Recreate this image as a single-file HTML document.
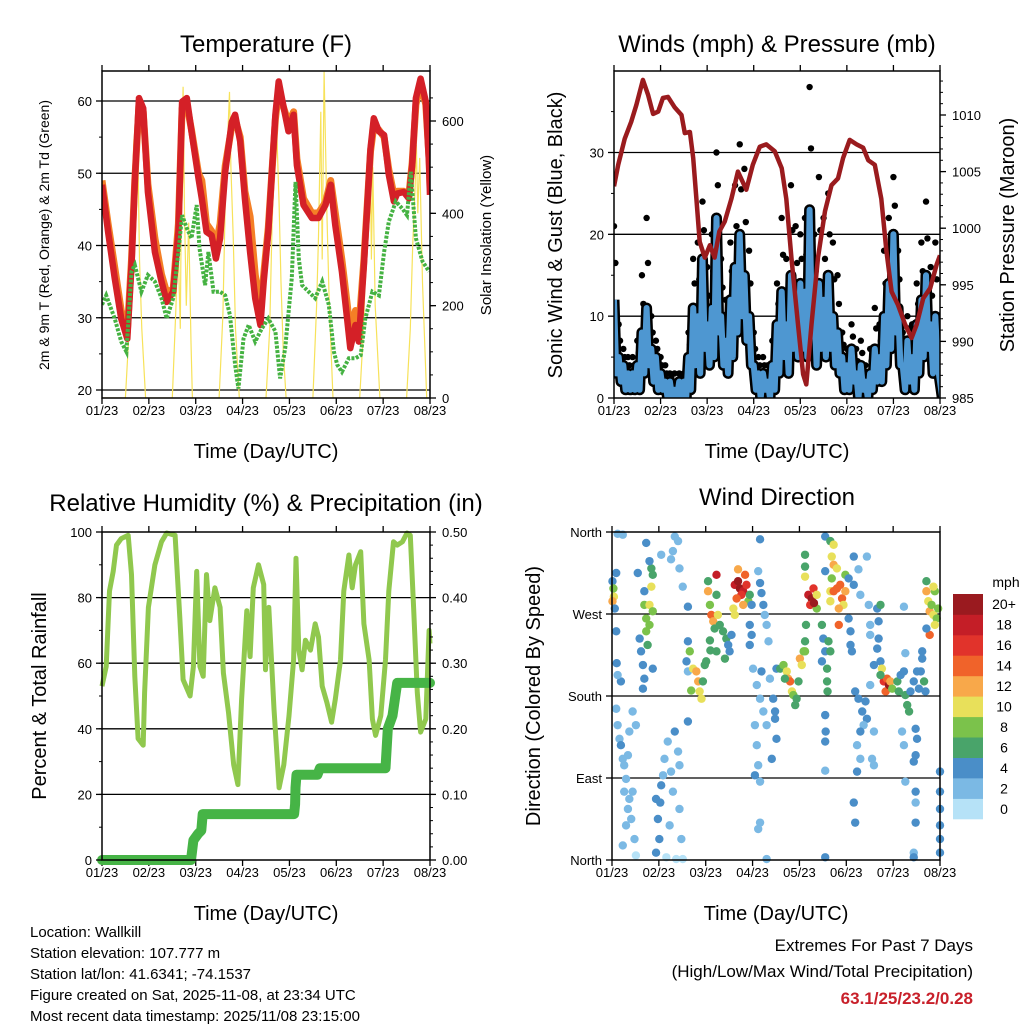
<!DOCTYPE html>
<html><head><meta charset="utf-8"><style>
html,body{margin:0;padding:0;background:#fff;}
svg{display:block;font-family:"Liberation Sans",Arial,sans-serif;}
</style></head><body>
<svg id="chart" width="1024" height="1024" viewBox="0 0 1024 1024" xmlns="http://www.w3.org/2000/svg"></svg>
<script>
// ---------- Temperature panel data ----------
const tempT = [0,0.13,0.27,0.41,0.54,0.63,0.7,0.79,0.88,0.98,1.13,1.27,1.38,1.52,1.63,1.71,1.81,1.91,2.06,2.13,2.23,2.34,2.43,2.52,2.63,2.77,2.84,2.95,3.05,3.16,3.27,3.38,3.45,3.55,3.7,3.77,3.88,3.98,4.09,4.16,4.3,4.48,4.62,4.77,4.88,4.98,5.12,5.23,5.3,5.41,5.48,5.59,5.73,5.8,5.91,6.02,6.12,6.23,6.3,6.44,6.55,6.62,6.7,6.8,6.91,6.98,7];
const temp2m = [48.4,41.9,35.5,29.9,27.1,37.3,48.8,60.4,59,47.4,39.1,35,32.2,33.6,41.9,59.9,60.4,55.8,49.3,46.5,41.9,41.4,38.2,41,50.2,57.1,58.1,54.4,46.5,39.1,32.7,29,35,41.9,58.1,62.7,59,55.8,58.1,51.1,45.6,43.8,43.8,45.6,48.4,42.8,36.4,29.9,25.8,29,26.7,37.3,53.4,57.6,55.8,55.3,49.8,46.1,47.2,47.4,46.5,51.1,60.4,63.1,59.9,51.1,47];
const temp9m = [49,43,37,31,28,38,49,59.5,58.5,48.5,41,36,33.5,34,43,59,59.5,56,50,49,43,42,40,43,51,56.5,57.5,55,47.5,44,36,31,36,42.5,57.5,61.5,59,57,58.5,52,46.5,44.5,44.5,46,49,44.5,38,32,28,31,28.5,38,53,56.5,56,55,50.5,47,47.5,47.5,47,51.5,59.5,62.5,59.5,52,48];
const dewT = [0,0.09,0.27,0.41,0.52,0.63,0.7,0.84,0.98,1.13,1.27,1.38,1.52,1.63,1.71,1.81,1.91,2.02,2.08,2.2,2.27,2.38,2.52,2.63,2.73,2.84,2.91,3.02,3.13,3.27,3.41,3.55,3.7,3.8,3.91,4.05,4.13,4.2,4.27,4.41,4.55,4.7,4.84,4.95,5.02,5.12,5.27,5.41,5.52,5.62,5.77,5.91,6.02,6.12,6.27,6.41,6.51,6.59,6.7,6.84,6.98];
const dewV = [31.8,33.1,29.9,26.7,25.3,36.4,37.3,33.6,35.9,35,32.7,29.9,32.7,39.1,44.2,42.4,41,45.6,39.6,34.5,39.1,33.6,33.6,33.1,30.4,23.5,20.2,27.1,29,26.7,28.5,29.9,28.1,21.6,25.8,35.5,48.8,38.2,34.5,33.6,32.7,35,31.8,25.3,23.5,22.5,24.4,24.4,24.8,29.9,33.6,33.1,39.1,43.3,46.1,45.1,44.2,50.2,41,37.8,36.4];
const solarT = [0,0.5,0.58,0.63,0.68,0.72,0.76,0.8,0.85,0.93,1.5,1.58,1.62,1.67,1.7,1.73,1.76,1.8,1.85,1.9,1.93,2.5,2.58,2.63,2.68,2.72,2.75,2.8,2.85,2.93,3.5,3.58,3.63,3.68,3.73,3.78,3.82,3.87,3.93,4.5,4.58,4.62,4.67,4.7,4.74,4.77,4.8,4.85,4.93,5.5,5.58,5.63,5.68,5.72,5.75,5.78,5.83,5.93,6.5,6.58,6.63,6.68,6.71,6.74,6.78,6.84,6.93,7];
const solarV = [0,0,150,400,560,480,577,300,150,0,0,200,350,150,520,674,400,200,380,120,0,0,180,420,560,663,500,350,150,0,0,150,380,500,577,420,250,100,0,0,200,350,620,300,707,550,400,200,0,0,150,300,500,584,300,500,200,0,0,150,330,450,548,400,520,250,0,0];
const tempTicks = [20,30,40,50,60];
const solarTicks = [0,200,400,600];
const dayLabels = ["01/23","02/23","03/23","04/23","05/23","06/23","07/23","08/23"];

// ---------- Winds / pressure data ----------
const presT = [0,0.09,0.23,0.37,0.48,0.62,0.73,0.84,0.95,1.05,1.16,1.3,1.45,1.52,1.63,1.7,1.77,1.84,1.95,2.06,2.16,2.26,2.38,2.52,2.66,2.84,2.98,3.13,3.27,3.45,3.6,3.7,3.81,3.95,4.06,4.13,4.24,4.38,4.53,4.67,4.81,4.92,5.06,5.21,5.35,5.46,5.6,5.74,5.85,5.96,6.1,6.25,6.39,6.5,6.64,6.79,6.93,7];
const presV = [1003.7,1005.6,1007.9,1009.4,1010.9,1013.1,1011.8,1010.1,1010.3,1011.5,1011.6,1010.7,1010,1008.4,1008.5,1006.2,1002.6,998.8,997.4,998.5,997.4,999.7,1000.6,1002.6,1005,1003.4,1005.6,1007.2,1007.4,1006.8,1005.3,1002.6,997.4,991.5,987.1,986.2,991.5,997.4,1001.5,1003.8,1004.4,1006.2,1007.8,1007.4,1007.1,1006,1005.6,1002.6,998,994.4,993.2,991.5,990.3,991.5,993.8,994.7,996.8,997.6];
const windHi = [12,5,4,3,3,4,8,11,6,5, 3,2,2,1,2,2,5,11,10,17, 9,11,22,10,7,12,16,20,15,10, 4,3,3,2,4,9,13,9,15,12, 14,13,23,11,14,12,15,10,8,5, 4,6,3,4,2,3,6,5,10,14, 20,11,4,7,5,9,12,15,9,10,2];
const windLo = [3,2,1,1,1,1,3,4,2,1, 1,0,0,0,0,0,1,4,3,6, 4,5,8,4,3,5,8,10,7,4, 1,0,1,0,1,3,5,3,6,5, 6,5,9,4,6,5,6,4,3,1, 1,2,0,1,0,1,2,2,4,6, 8,4,1,2,1,3,5,6,3,4,0];
const gust = [21,9,6,5,5,7,15,22,10,7, 5,4,3,3,3,3,8,17,19,24, 16,20,30,17,12,19,26,31,28,18, 8,5,5,4,7,14,22,17,26,21, 20,22,38,20,27,22,25,19,15,8, 6,9,6,7,4,6,11,9,18,22, 27,18,8,10,9,14,19,24,16,19,5];
const windTicks = [0,10,20,30];
const presTicks = [985,990,995,1000,1005,1010];

// ---------- RH / precip data ----------
const rhT = [0,0.09,0.16,0.24,0.31,0.41,0.56,0.63,0.7,0.77,0.88,0.91,0.99,1.13,1.27,1.38,1.56,1.66,1.73,1.88,1.95,2.02,2.09,2.16,2.23,2.3,2.41,2.52,2.59,2.7,2.81,2.9,2.98,3.09,3.16,3.23,3.34,3.45,3.49,3.56,3.67,3.78,3.88,3.99,4.09,4.14,4.2,4.27,4.34,4.45,4.55,4.62,4.7,4.8,4.9,4.98,5.09,5.16,5.27,5.34,5.41,5.52,5.59,5.7,5.77,5.84,5.95,6.05,6.12,6.22,6.3,6.41,6.51,6.58,6.65,6.73,6.8,6.91,6.98,7];
const rhV = [53,59,82,88,96,98,99,87,56,37,35,51,77,90,97,99.7,99,74,55,50,59,88,59,56,87,73,83,77,57,45,29,23,49,76,62,83,90,84,58,77,46,22,29,44,61,92,64,58,67,64,72,68,53,48,42,49,61,82,93,83,90,94,72,61,43,38,44,61,82,97,96,97,99.7,99,77,51,39,43,70,66];
const precT = [0,1.9,1.95,2.05,2.12,2.15,4.1,4.12,4.13,4.15,4.6,4.65,6.05,6.1,6.2,6.3,7];
const precV = [0,0,0.03,0.04,0.045,0.07,0.07,0.085,0.11,0.13,0.13,0.14,0.14,0.2,0.22,0.27,0.27];
const rhTicks = [0,20,40,60,80,100];
const precTicks = ["0.00","0.10","0.20","0.30","0.40","0.50"];

// ---------- Wind direction data ----------
const dirDay = [0.01,0.03,0.04,0.01,0.06,0.09,0.09,0.1,0.19,0.12,0.09,0.12,0.16,0.23,0.3,0.19,0.26,0.37,0.44,0.51,0.34,0.26,0.34,0.3,0.41,0.48,0.51,0.23,0.44,0.37,0.12,0.23,0.59,0.62,0.66,0.69,0.66,0.73,0.76,0.8,0.73,0.69,0.8,0.87,0.84,0.84,0.8,0.87,0.73,0.55,0.87,0.69,
0.94,0.98,1.01,0.94,1.05,1.12,1.19,1.26,1.34,1.3,1.41,1.44,1.48,1.23,1.16,1.37,1.51,1.44,1.09,1.03,1.34,1.41,1.44,1.51,1.3,1.05,1.26,1.59,1.62,1.66,1.73,1.8,1.84,1.87,1.91,1.69,1.94,1.98,2.01,1.62,1.62,1.62,
2.05,2.05,2.09,2.12,2.16,2.19,2.23,2.23,2.26,2.09,2.1,2.23,2.3,2.37,2.44,2.48,2.51,2.41,2.55,2.62,2.69,2.73,2.8,2.76,2.66,2.84,2.87,2.59,2.91,2.69,2.8,2.62,2.94,
3.16,3.12,3.16,3.19,3.23,2.98,2.94,2.98,2.94,3.01,3.09,3.16,3.23,3.3,3.37,3.44,3.48,3.51,3.41,3.05,3.09,3.12,3.05,3.16,3.19,3.34,3.3,3.26,3.51,3.48,3.16,3.12,3.3,3.59,3.66,3.73,3.76,3.8,3.84,3.87,3.91,3.94,4.01,4.05,4.09,3.98,3.69,
4.12,4.12,4.12,4.14,4.12,4.12,4.19,4.26,4.3,4.23,4.37,4.37,4.31,4.55,4.66,4.73,4.69,4.73,4.8,4.69,4.55,4.66,4.73,4.8,4.87,4.91,4.94,4.98,4.84,4.66,4.98,4.84,4.48,4.51,4.55,4.62,4.66,4.59,4.59,4.6,4.48,4.55,4.56,4.55,4.55,4.55,
5.05,5.09,5.09,5.12,5.16,5.16,5.05,5.19,5.26,5.34,5.41,5.44,5.51,5.59,5.37,5.23,5.3,5.55,5.59,5.23,5.16,5.19,5.3,5.44,5.26,5.3,5.48,5.51,5.51,5.66,5.69,5.73,5.69,5.66,5.59,5.73,5.76,5.8,5.84,5.87,5.91,5.94,5.98,5.73,
6.09,6.12,6.16,6.23,6.26,6.3,6.34,6.37,6.44,6.51,6.55,6.59,6.62,6.66,6.62,6.69,6.19,6.23,6.26,6.48,6.51,6.48,6.44,6.48,6.48,6.48,6.44,6.44,6.71,6.71,6.75,6.78,6.82,6.86,6.89,6.93,6.89,6.78,6.71,6.86,6.96,7.0,7.0,7.0,7.0,7.0,7.0,6.23,6.26];
const dirDeg = [306,298,289,284,276,315,251,216,196,203,166,148,133,111,89,126,104,141,163,148,115,75,56,38,45,23,5,16,75,67,358,357,243,229,214,199,188,251,236,258,265,280,280,273,300,320,328,313,348,315,210,295,
67,45,23,8,82,111,130,97,141,75,119,56,23,38,3,1,1,104,93,63,355,350,320,300,339,335,330,218,207,229,210,207,196,185,177,186,196,214,218,240,152,278,
306,295,280,269,262,254,291,313,269,241,230,229,258,251,243,236,229,221,247,302,306,298,295,291,287,313,302,276,284,319,280,269,291,
352,317,304,293,280,280,258,247,236,210,192,177,163,148,199,177,155,133,111,148,126,104,93,86,207,240,258,269,210,163,41,34,1,210,214,207,199,196,185,181,170,177,221,214,229,196,199,
335,322,311,258,240,229,291,287,298,280,291,276,282,355,350,346,333,324,320,309,317,295,295,298,302,287,280,295,276,284,313,258,258,243,229,240,229,210,196,185,218,159,141,130,98,3,
309,251,236,229,333,302,265,185,177,163,174,155,192,141,148,126,111,111,104,97,63,41,141,333,319,291,280,258,247,276,262,280,243,232,214,218,210,196,185,199,192,196,188,203,
196,185,203,207,181,170,163,185,196,207,188,207,221,196,229,185,141,126,86,144,133,115,108,75,63,41,8,3,306,295,284,273,280,269,295,265,258,247,254,300,276,97,75,56,38,23,8,278,227];
const dirSpd = [4,8,10,12,4,4,3,4,4,2,2,2,2,2,2,3,2,1,1,1,2,2,2,2,1,1,0,1,2,2,1,1,4,4,4,4,4,8,6,8,8,8,10,8,10,6,4,6,4,4,3,4,
3,4,4,3,3,1,1,2,3,1,1,1,1,1,0,0,0,1,2,3,1,1,1,1,1,1,1,3,2,8,10,12,12,10,10,8,6,6,6,3,4,4,
6,12,8,14,12,6,6,18,10,6,6,6,6,6,6,4,4,6,4,18,20,20,18,16,14,14,16,10,8,12,12,10,6,
3,2,4,4,3,3,3,3,3,2,2,2,2,2,2,4,3,3,3,1,1,1,3,1,3,1,1,1,3,4,1,1,1,6,8,10,12,14,10,8,6,6,12,10,8,6,6,
6,6,10,6,6,8,18,20,16,16,10,8,20,3,6,10,10,12,10,8,4,10,14,14,14,14,10,12,12,10,8,14,6,4,4,6,6,6,6,6,3,4,4,4,2,4,
4,3,3,3,4,4,4,3,3,4,3,3,2,2,2,2,2,2,2,3,4,4,3,1,1,1,1,2,2,4,4,6,4,4,3,4,10,16,14,14,20,12,8,6,
6,6,4,3,6,6,6,4,3,3,4,4,4,6,4,3,1,1,1,3,3,4,3,4,1,4,1,4,6,12,10,12,8,10,8,8,10,14,4,10,8,4,4,4,3,4,3,1,1];
const dirTickLabels = ["North","East","South","West","North"];
const cbLabels = ["0","2","4","6","8","10","12","14","16","18","20+"];
const cbColors = ["#b6e2f7","#7bb9e4","#4a8ec8","#49a46a","#7bc24b","#e8e05a","#f8a84a","#f0632a","#e1332b","#c41e27","#9a1a1f"];

// ---------- helpers ----------
const NS = "http://www.w3.org/2000/svg";
const svg = document.getElementById("chart");
function mk(tag, attrs, parent) {
  const e = document.createElementNS(NS, tag);
  for (const k in attrs) e.setAttribute(k, attrs[k]);
  (parent || svg).appendChild(e);
  return e;
}
function txt(s, x, y, size, anchor, parent, extra) {
  const t = mk("text", Object.assign({x: x, y: y, "font-size": size, "text-anchor": anchor || "middle", fill: "#000"}, extra || {}), parent);
  t.textContent = s;
  return t;
}
function lin(d0, d1, p0, p1) { return v => p0 + (v - d0) / (d1 - d0) * (p1 - p0); }
function poly(xs, ys, fx, fy) { return xs.map((t, i) => fx(t).toFixed(1) + "," + fy(ys[i]).toFixed(1)).join(" "); }

function frame(g, L, T, R, B) {
  const f = mk("rect", {x: L, y: T, width: R - L, height: B - T, fill: "none", stroke: "#000", "stroke-width": 1.5}, g);
  
  
}
function xAxis(g, L, R, T, B) {
  const fx = lin(0, 7, L, R);
  const ax = mk("g", {}, g);
  
  
  dayLabels.forEach((s, i) => {
    const x = fx(i);
    mk("line", {x1: x, x2: x, y1: B, y2: B + 6, stroke: "#000", "stroke-width": 1.3}, ax);
    mk("line", {x1: x, x2: x, y1: T, y2: T - 6, stroke: "#000", "stroke-width": 1.3}, ax);
    const t = txt(s, x, B + 17, 13, "middle", ax);
    
    
  });
  const ti = txt("Time (Day/UTC)", (L + R) / 2, B + 60, 20, "middle", ax);
  
  
  return fx;
}
function yTicks(g, vals, labels, fy, x, side, minor) {
  const ax = mk("g", {}, g);
  
  
  const d = side === "left" ? -6 : 6;
  (minor || []).forEach(v => { const y = fy(v); mk("line", {x1: x, x2: x + d / 2, y1: y, y2: y, stroke: "#000", "stroke-width": 1}, ax); });
  vals.forEach((v, i) => {
    const y = fy(v);
    mk("line", {x1: x, x2: x + d, y1: y, y2: y, stroke: "#000", "stroke-width": 1.3}, ax);
    const t = txt(labels[i], side === "left" ? x - 10 : x + 12, y + 5, 13, side === "left" ? "end" : "start", ax);
    
    
  });
}
function grid(g, vals, fy, L, R) {
  vals.forEach(v => {
    const l = mk("line", {x1: L, x2: R, y1: fy(v), y2: fy(v), stroke: "#000", "stroke-width": 1.3}, g);
    
    
  });
}
function vtitle(s, x, y, size, g, name) {
  const t = txt(s, x, y, size, "middle", g, {transform: "rotate(-90 " + x + " " + y + ")"});
  
  
}
function range(a, b, s) { const r = []; for (let v = a; v <= b + 1e-9; v += s) r.push(+v.toFixed(4)); return r; }

// ---------- Panel 1: Temperature ----------
(function () {
  const L = 102, R = 430, T = 71, B = 398;
  const g = mk("g", {});
  
  
  const ft = lin(20, 60, 390, 101);
  const fs = lin(0, 600, 398, 121);
  const cp = mk("clipPath", {id: "c1"}, g); mk("rect", {x: L, y: T, width: R - L, height: B - T}, cp);
  const tt = txt("Temperature (F)", 266, 52, 24, "middle", g);
  
  
  grid(g, tempTicks, ft, L, R);
  const fx = xAxis(g, L, R, T, B);
  const pl = mk("g", {"clip-path": "url(#c1)"}, g);
  const sol = mk("polyline", {points: poly(solarT, solarV, fx, fs), fill: "none", stroke: "#f7e25a", "stroke-width": 1.2}, pl);
  
  
  const o = mk("polyline", {points: poly(tempT, temp9m, fx, ft), fill: "none", stroke: "#f47f26", "stroke-width": 7, "stroke-linejoin": "round"}, pl);
  
  
  const r = mk("polyline", {points: poly(tempT, temp2m, fx, ft), fill: "none", stroke: "#d42027", "stroke-width": 6.5, "stroke-linejoin": "round"}, pl);
  
  
  const dg = mk("polyline", {points: poly(dewT, dewV, fx, ft), fill: "none", stroke: "#45b242", "stroke-width": 4, "stroke-dasharray": "3 1.5"}, pl);
  
  
  frame(g, L, T, R, B);
  yTicks(g, tempTicks, tempTicks.map(String), ft, L, "left", range(20, 60, 5));
  yTicks(g, solarTicks, solarTicks.map(String), fs, R, "right", range(0, 650, 50));
  vtitle("2m & 9m T (Red, Orange) & 2m Td (Green)", 49, 235, 14, g, 'temperature-y-title');
  vtitle("Solar Insolation (Yellow)", 491, 235, 15, g, 'solar-y-title');
})();

// ---------- Panel 2: Winds & Pressure ----------
(function () {
  const L = 614, R = 940, T = 71, B = 398;
  const g = mk("g", {});
  
  
  const fw = lin(0, 30, 398, 152.5);
  const fp = lin(985, 1010, 398, 115);
  const cp = mk("clipPath", {id: "c2"}, g); mk("rect", {x: L, y: T, width: R - L, height: B - T}, cp);
  const tt = txt("Winds (mph) & Pressure (mb)", 777, 52, 24, "middle", g);
  
  
  grid(g, [10, 20, 30], fw, L, R);
  const fx = xAxis(g, L, R, T, B);
  const pl = mk("g", {"clip-path": "url(#c2)"}, g);
  const step = 0.1;
  const bt = [], bv = [];
  windHi.forEach((v, i) => { bt.push(i * step); bv.push(v); bt.push(i * step + step / 2); bv.push(windLo[i]); });
  const gl = mk("polyline", {points: poly(bt, bv, fx, fw), fill: "none", stroke: "#000", "stroke-width": 11, "stroke-linejoin": "round"}, pl);
  
  
  gust.forEach((v, i) => {
    const c = mk("circle", {cx: fx(i * step), cy: fw(v), r: 3.2, fill: "#000"}, pl);
    
    
    const c2 = mk("circle", {cx: fx(i * step + 0.03), cy: fw((v + windHi[i]) / 2), r: 3.2, fill: "#000"}, pl);
    
    
  });
  const bl = mk("polyline", {points: poly(bt, bv, fx, fw), fill: "none", stroke: "#4e97d1", "stroke-width": 6, "stroke-linejoin": "round"}, pl);
  
  
  const pr = mk("polyline", {points: poly(presT, presV, fx, fp), fill: "none", stroke: "#9a1b1e", "stroke-width": 4.5, "stroke-linejoin": "round"}, pl);
  
  
  frame(g, L, T, R, B);
  yTicks(g, windTicks, windTicks.map(String), fw, L, "left", range(0, 35, 5));
  yTicks(g, presTicks, presTicks.map(String), fp, R, "right", range(985, 1013, 1));
  vtitle("Sonic Wind & Gust (Blue, Black)", 562, 235, 20, g, 'wind-y-title');
  vtitle("Station Pressure (Maroon)", 1014, 235, 20, g, 'pressure-y-title');
})();

// ---------- Panel 3: RH & Precip ----------
(function () {
  const L = 102, R = 430, T = 532, B = 860;
  const g = mk("g", {});
  
  
  const fr = lin(0, 100, B, T);
  const fpr = lin(0, 0.5, B, T);
  const cp = mk("clipPath", {id: "c3"}, g); mk("rect", {x: L - 8, y: T - 8, width: R - L + 16, height: B - T + 16}, cp);
  const tt = txt("Relative Humidity (%) & Precipitation (in)", 266, 511, 24, "middle", g);
  
  
  grid(g, [20, 40, 60, 80], fr, L, R);
  const fx = xAxis(g, L, R, T, B);
  const pl = mk("g", {"clip-path": "url(#c3)"}, g);
  const rh = mk("polyline", {points: poly(rhT, rhV, fx, fr), fill: "none", stroke: "#90c84e", "stroke-width": 5, "stroke-linejoin": "round"}, pl);
  
  
  const pp = mk("polyline", {points: poly(precT, precV, fx, fpr), fill: "none", stroke: "#46b446", "stroke-width": 10, "stroke-linejoin": "round", "stroke-linecap": "round"}, pl);
  
  
  frame(g, L, T, R, B);
  yTicks(g, rhTicks, rhTicks.map(String), fr, L, "left", range(0, 100, 10));
  yTicks(g, precTicks.map(Number), precTicks, fpr, R, "right", range(0, 0.5, 0.02));
  vtitle("Percent & Total Rainfall", 46, 696, 20, g, 'humidity-y-title');
})();

// ---------- Panel 4: Wind direction ----------
(function () {
  const L = 612, R = 940, T = 532, B = 860;
  const g = mk("g", {});
  
  
  const fd = lin(0, 360, B, T);
  const tt = txt("Wind Direction", 777, 505, 24, "middle", g);
  
  
  grid(g, [90, 180, 270], fd, L, R);
  const fx = xAxis(g, L, R, T, B);
  const pl = mk("g", {}, g);
  dirDay.forEach((d, i) => {
    const s = dirSpd[i];
    const ci = Math.min(10, Math.round(s / 2));
    const c = mk("circle", {cx: fx(d), cy: fd(dirDeg[i]), r: 4.2, fill: cbColors[ci]}, pl);
    
    
  });
  frame(g, L, T, R, B);
  yTicks(g, [0, 90, 180, 270, 360], dirTickLabels, fd, L, "left", []);
  vtitle("Direction (Colored By Speed)", 540, 696, 20, g, 'direction-y-title');
  const cb = mk("g", {});
  
  
  const h = 225 / 11;
  cbColors.forEach((c, i) => {
    const y = 819 - (i + 1) * h;
    const r = mk("rect", {x: 953, y: y.toFixed(1), width: 30, height: (h + 0.3).toFixed(1), fill: c}, cb);
    
    
    const t = txt(cbLabels[i], 1004, y + h / 2 + 5, 14, "middle", cb);
    
    
  });
  const u = txt("mph", 1006, 587, 14, "middle", cb);
  
  
})();

// ---------- footer ----------
(function () {
  const g = mk("g", {});
  
  
  ["Location: Wallkill", "Station elevation: 107.777 m", "Station lat/lon: 41.6341; -74.1537",
   "Figure created on Sat, 2025-11-08, at 23:34 UTC", "Most recent data timestamp: 2025/11/08 23:15:00"]
    .forEach((s, i) => {
      const t = txt(s, 30, 937 + i * 21, 15, "start", g);
      
      
    });
  const e = mk("g", {});
  
  
  const a = txt("Extremes For Past 7 Days", 973, 951, 17, "end", e);
  
  
  const b = txt("(High/Low/Max Wind/Total Precipitation)", 973, 977, 17, "end", e);
  
  
  const c = txt("63.1/25/23.2/0.28", 973, 1004, 17, "end", e, {fill: "#c8202a", "font-weight": "bold"});
  
  
})();
</script>
</body></html>
